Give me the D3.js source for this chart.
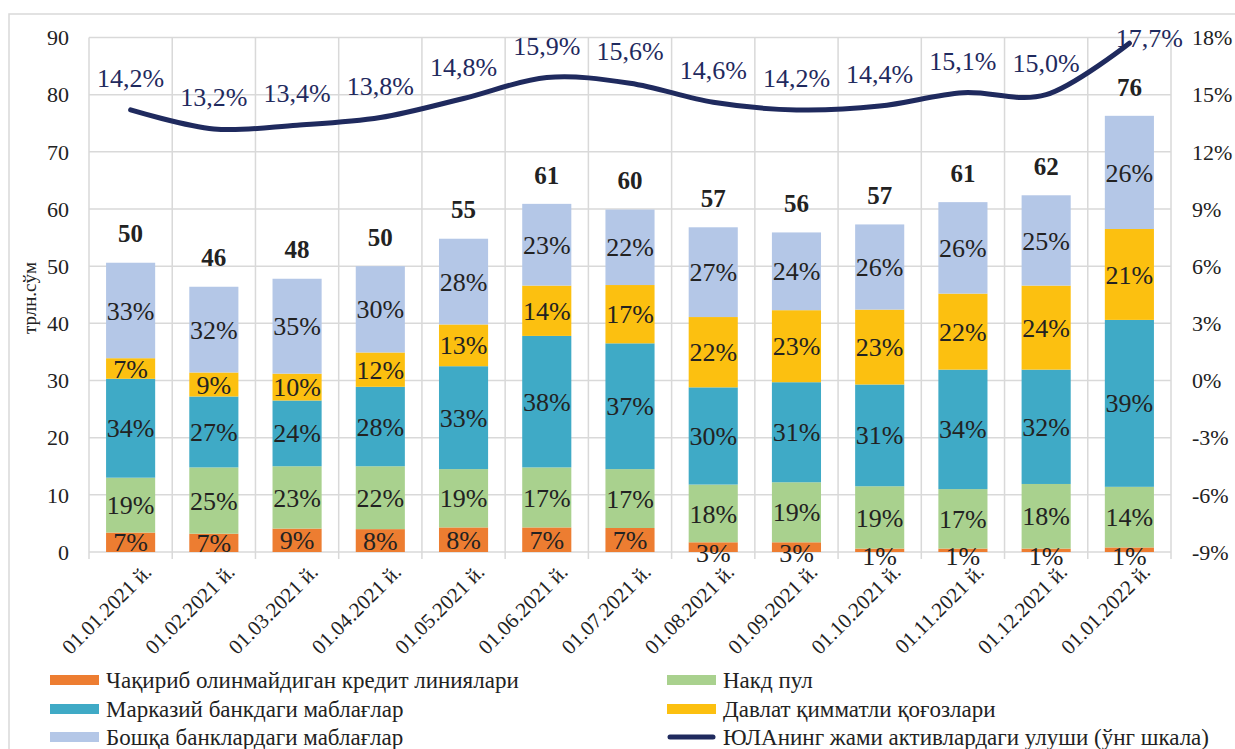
<!DOCTYPE html>
<html><head><meta charset="utf-8">
<script src="https://cdn.jsdelivr.net/npm/d3@7/dist/d3.min.js"></script>
</head>
<body style="margin:0;padding:0;background:#fff;"><svg id="chart" width="1235" height="749"></svg>
<script>
const categories = ["01.01.2021 й.","01.02.2021 й.","01.03.2021 й.","01.04.2021 й.","01.05.2021 й.","01.06.2021 й.","01.07.2021 й.","01.08.2021 й.","01.09.2021 й.","01.10.2021 й.","01.11.2021 й.","01.12.2021 й.","01.01.2022 й."];
const seriesNames = ["Чақириб олинмайдиган кредит линиялари","Накд пул","Марказий банкдаги маблағлар","Давлат қимматли қоғозлари","Бошқа банклардаги маблағлар"];
const lineName = "ЮЛАнинг жами активлардаги улуши (ўнг шкала)";
const creditLines   = [3.4,3.2,4.1,4.0,4.3,4.3,4.2,1.7,1.7,0.6,0.6,0.6,0.8];
const cash          = [9.6,11.6,10.9,11.0,10.2,10.5,10.3,10.1,10.5,10.9,10.4,11.3,10.6];
const centralBank   = [17.3,12.4,11.5,13.9,18.0,23.0,22.0,17.0,17.5,17.8,20.9,20.0,29.2];
const govSecurities = [3.6,4.2,4.7,6.0,7.3,8.8,10.2,12.3,12.6,13.1,13.3,14.7,15.9];
const otherBanks    = [16.7,15.0,16.6,15.1,15.0,14.3,13.2,15.7,13.6,14.9,16.0,15.8,19.8];
const pctCredit  = [7,7,9,8,8,7,7,3,3,1,1,1,1];
const pctCash    = [19,25,23,22,19,17,17,18,19,19,17,18,14];
const pctCentral = [34,27,24,28,33,38,37,30,31,31,34,32,39];
const pctGov     = [7,9,10,12,13,14,17,22,23,23,22,24,21];
const pctOther   = [33,32,35,30,28,23,22,27,24,26,26,25,26];
const totalLabels = [50,46,48,50,55,61,60,57,56,57,61,62,76];
const shareValues = [14.2,13.2,13.4,13.8,14.8,15.9,15.6,14.6,14.2,14.4,15.1,15.0,17.7];
const leftTicks = [0,10,20,30,40,50,60,70,80,90];
const rightTicks = [-9,-6,-3,0,3,6,9,12,15,18];

const colors = ["#ED7D31","#A9D18E","#3FAAC6","#FCC010","#B4C7E7"];
const lineColor = "#1F2A5E";
const gridColor = "#D9D9D9";
const FONT = "'Liberation Serif', 'Times New Roman', serif";

const svg = d3.select("#chart");
const L = 89, R = 1171, T = 37.5, B = 552;

svg.append("rect").attr("x",9).attr("y",14).attr("width",1240).attr("height",760)
  .attr("fill","none").attr("stroke",gridColor).attr("stroke-width",1.5);

const x = d3.scaleBand().domain(categories).range([L,R]).paddingInner(0.41).paddingOuter(0.205);
const y = d3.scaleLinear().domain([0,90]).range([B,T]);
const y2 = d3.scaleLinear().domain([-9,18]).range([B,T]);

svg.append("g").selectAll("line").data(leftTicks).join("line")
  .attr("x1",L).attr("x2",R).attr("y1",d=>y(d)).attr("y2",d=>y(d))
  .attr("stroke",gridColor).attr("stroke-width",1.5);
const step = x.step();
const bounds = d3.range(categories.length+1).map(i => L + i*step);
svg.append("g").selectAll("line").data(bounds).join("line")
  .attr("x1",d=>d).attr("x2",d=>d).attr("y1",T).attr("y2",B+7)
  .attr("stroke",gridColor).attr("stroke-width",1.5);

function txt(sel){ return sel.style("font-family",FONT); }

txt(svg.append("g").selectAll("text").data(leftTicks).join("text"))
  .attr("x",69).attr("y",d=>y(d)).attr("dy","0.35em").attr("text-anchor","end")
  .attr("font-size",22).attr("fill","#222").text(d=>d);
txt(svg.append("g").selectAll("text").data(rightTicks).join("text"))
  .attr("x",1192).attr("y",d=>y2(d)).attr("dy","0.35em").attr("text-anchor","start")
  .attr("font-size",22).attr("fill","#222").text(d=>d+"%");

txt(svg.append("text")).attr("transform","translate(36,298) rotate(-90)")
  .attr("text-anchor","middle").attr("font-size",19).attr("fill","#222").text("трлн.сўм");

const seriesVals = [creditLines,cash,centralBank,govSecurities,otherBanks];
const seriesPct = [pctCredit,pctCash,pctCentral,pctGov,pctOther];
const table = categories.map((c,i)=>{const o={cat:c}; seriesVals.forEach((s,k)=>o["s"+k]=s[i]); return o;});
const keys = seriesVals.map((s,k)=>"s"+k);
const stacked = d3.stack().keys(keys)(table);

const gBars = svg.append("g");
stacked.forEach((layer,k)=>{
  gBars.append("g").selectAll("rect").data(layer).join("rect")
    .attr("x",d=>x(d.data.cat)).attr("width",x.bandwidth())
    .attr("y",d=>y(d[1])).attr("height",d=>y(d[0])-y(d[1]))
    .attr("fill",colors[k]);
});
const gLab = svg.append("g");
stacked.forEach((layer,k)=>{
  txt(gLab.append("g").selectAll("text").data(layer).join("text"))
    .attr("x",d=>x(d.data.cat)+x.bandwidth()/2)
    .attr("y",(d,i)=>{const m=(y(d[0])+y(d[1]))/2; return k===0 && (y(d[0])-y(d[1]))<14 ? m+6 : m;})
    .attr("dy","0.35em").attr("text-anchor","middle")
    .attr("font-size",26).attr("fill","#222")
    .text((d,i)=>seriesPct[k][i]+"%");
});
const tops = stacked[stacked.length-1];
txt(svg.append("g").selectAll("text").data(tops).join("text"))
  .attr("x",d=>x(d.data.cat)+x.bandwidth()/2)
  .attr("y",d=>y(d[1])-29).attr("dy","0.35em").attr("text-anchor","middle")
  .attr("font-size",25).attr("font-weight","bold").attr("fill","#222")
  .text((d,i)=>totalLabels[i]);

const linePts = categories.map((c,i)=>[x(c)+x.bandwidth()/2, y2(shareValues[i])]);
svg.append("path").attr("d", d3.line().curve(d3.curveCatmullRom.alpha(0))(linePts))
  .attr("fill","none").attr("stroke",lineColor).attr("stroke-width",5).attr("stroke-linecap","round");
txt(svg.append("g").selectAll("text").data(linePts).join("text"))
  .attr("x",(d)=> d[1]-32 < T ? d[0]+20 : d[0])
  .attr("y",(d)=> Math.max(d[1]-32, T)).attr("dy","0.35em").attr("text-anchor","middle")
  .attr("font-size",26).attr("fill",lineColor)
  .text((d,i)=>shareValues[i].toFixed(1).replace(".",",")+"%");

txt(svg.append("g").selectAll("text").data(categories).join("text"))
  .attr("transform",c=>`translate(${x(c)+x.bandwidth()/2+17},${B+16}) rotate(-45)`)
  .attr("text-anchor","end").attr("dy","0.35em")
  .attr("font-size",21).attr("fill","#222").text(c=>c);

const legendItems = [
  {name:seriesNames[0], color:colors[0], col:0, row:0},
  {name:seriesNames[1], color:colors[1], col:1, row:0},
  {name:seriesNames[2], color:colors[2], col:0, row:1},
  {name:seriesNames[3], color:colors[3], col:1, row:1},
  {name:seriesNames[4], color:colors[4], col:0, row:2},
  {name:lineName, color:lineColor, col:1, row:2, line:true}
];
const colX = [50,667], rowY = [680,709,737];
const lg = svg.append("g");
legendItems.forEach(it=>{
  const gx = colX[it.col], gy = rowY[it.row];
  if(it.line){
    lg.append("line").attr("x1",gx+3).attr("x2",gx+46).attr("y1",gy).attr("y2",gy)
      .attr("stroke",it.color).attr("stroke-width",5).attr("stroke-linecap","round");
  } else {
    lg.append("rect").attr("x",gx).attr("y",gy-5).attr("width",49).attr("height",10).attr("fill",it.color);
  }
  txt(lg.append("text")).attr("x",gx+56).attr("y",gy).attr("dy","0.35em")
    .attr("font-size",23).attr("fill","#222").text(it.name);
});
</script>
</body></html>
